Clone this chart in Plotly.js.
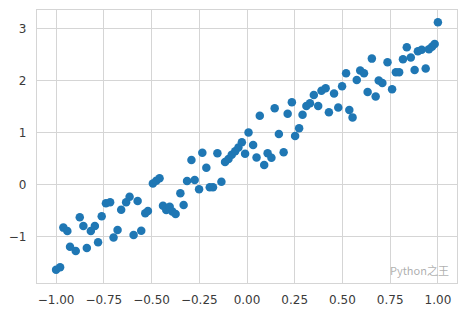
<!DOCTYPE html>
<html>
<head>
<meta charset="utf-8">
<script src="https://cdn.plot.ly/plotly-3.0.1.min.js"></script>
<style>
  html, body { margin: 0; padding: 0; background: #ffffff; }
  #chart { width: 464px; height: 314px; }
</style>
</head>
<body>
<div id="chart"></div>
<script>
// Data
var xValues = [
  -1.000, -0.979, -0.962, -0.941, -0.927, -0.897, -0.876, -0.857, -0.839, -0.818,
  -0.797, -0.780, -0.761, -0.739, -0.717, -0.699, -0.678, -0.659, -0.633, -0.615,
  -0.594, -0.573, -0.554, -0.533, -0.519, -0.493, -0.475, -0.458, -0.440, -0.423,
  -0.405, -0.391, -0.374, -0.349, -0.332, -0.314, -0.291, -0.274, -0.251, -0.234,
  -0.213, -0.195, -0.178, -0.155, -0.134, -0.115, -0.097, -0.080, -0.062, -0.045,
  -0.027, -0.010, 0.008, 0.032, 0.050, 0.067, 0.090, 0.108, 0.128, 0.145,
  0.167, 0.192, 0.213, 0.235, 0.252, 0.273, 0.291, 0.311, 0.330, 0.350,
  0.373, 0.390, 0.412, 0.429, 0.456, 0.478, 0.498, 0.519, 0.536, 0.553,
  0.575, 0.593, 0.613, 0.632, 0.654, 0.674, 0.690, 0.709, 0.736, 0.760,
  0.780, 0.797, 0.817, 0.837, 0.858, 0.878, 0.895, 0.915, 0.936, 0.953,
  0.969, 0.983, 1.000
];
var yValues = [
  -1.63, -1.58, -0.82, -0.885, -1.19, -1.27, -0.62, -0.79, -1.21, -0.885,
  -0.79, -1.10, -0.60, -0.35, -0.33, -1.01, -0.865, -0.475, -0.33, -0.225,
  -0.96, -0.31, -0.88, -0.545, -0.50, 0.03, 0.08, 0.13, -0.40, -0.48,
  -0.42, -0.51, -0.56, -0.16, -0.385, 0.077, 0.48, 0.096, -0.083, 0.62,
  0.33, -0.044, -0.044, 0.61, 0.063, 0.44, 0.50, 0.58, 0.65, 0.72,
  0.82, 0.60, 1.01, 0.77, 0.53, 1.33, 0.385, 0.61, 0.525, 1.475,
  0.98, 0.63, 1.37, 1.59, 0.94, 1.09, 1.35, 1.52, 1.57, 1.73,
  1.52, 1.81, 1.86, 1.40, 1.76, 1.49, 1.90, 2.15, 1.44, 1.30,
  2.02, 2.20, 2.15, 1.79, 2.43, 1.70, 2.01, 1.96, 2.36, 1.84,
  2.17, 2.17, 2.42, 2.65, 2.45, 2.21, 2.57, 2.60, 2.24, 2.61,
  2.66, 2.71, 3.13
];
var xTickVals = [-1.0, -0.75, -0.5, -0.25, 0.0, 0.25, 0.5, 0.75, 1.0];
var yTickVals = [-1, 0, 1, 2, 3];
var watermarkText = "Python之王";

var trace = {
  type: "scatter",
  mode: "markers",
  x: xValues,
  y: yValues,
  marker: { color: "#1f77b4", size: 8.5, line: { width: 0 } },
  hoverinfo: "skip"
};

var gridColor = "#d5d5d5";
var layout = {
  width: 464,
  height: 314,
  margin: { l: 37, r: 7, t: 10, b: 31, pad: 0 },
  paper_bgcolor: "#ffffff",
  plot_bgcolor: "#ffffff",
  showlegend: false,
  font: { family: "DejaVu Sans, sans-serif", size: 12, color: "#3a3a3a" },
  xaxis: {
    range: [-1.1, 1.1],
    tickmode: "array",
    tickvals: xTickVals,
    tickformat: ".2f",
    showgrid: true,
    gridcolor: gridColor,
    gridwidth: 1,
    zeroline: false,
    showline: true,
    mirror: true,
    linecolor: gridColor,
    linewidth: 1.2,
    ticks: "",
    ticklabelstandoff: 5,
    tickfont: { family: "DejaVu Sans, sans-serif", size: 12, color: "#3a3a3a" }
  },
  yaxis: {
    range: [-1.885, 3.365],
    tickmode: "array",
    tickvals: yTickVals,
    showgrid: true,
    gridcolor: gridColor,
    gridwidth: 1,
    zeroline: false,
    showline: true,
    mirror: true,
    linecolor: gridColor,
    linewidth: 1.2,
    ticks: "",
    ticklabelstandoff: 7,
    tickfont: { family: "DejaVu Sans, sans-serif", size: 12, color: "#3a3a3a" }
  },
  annotations: [{
    text: watermarkText,
    xref: "paper", yref: "paper",
    x: 1.0, y: 0, xanchor: "right", yanchor: "bottom",
    xshift: -6, yshift: 3,
    showarrow: false,
    font: { family: "Noto Sans CJK SC, sans-serif", size: 11, color: "rgba(120,120,120,0.6)" }
  }]
};

Plotly.newPlot("chart", [trace], layout, { displayModeBar: false, staticPlot: true });
</script>
</body>
</html>
